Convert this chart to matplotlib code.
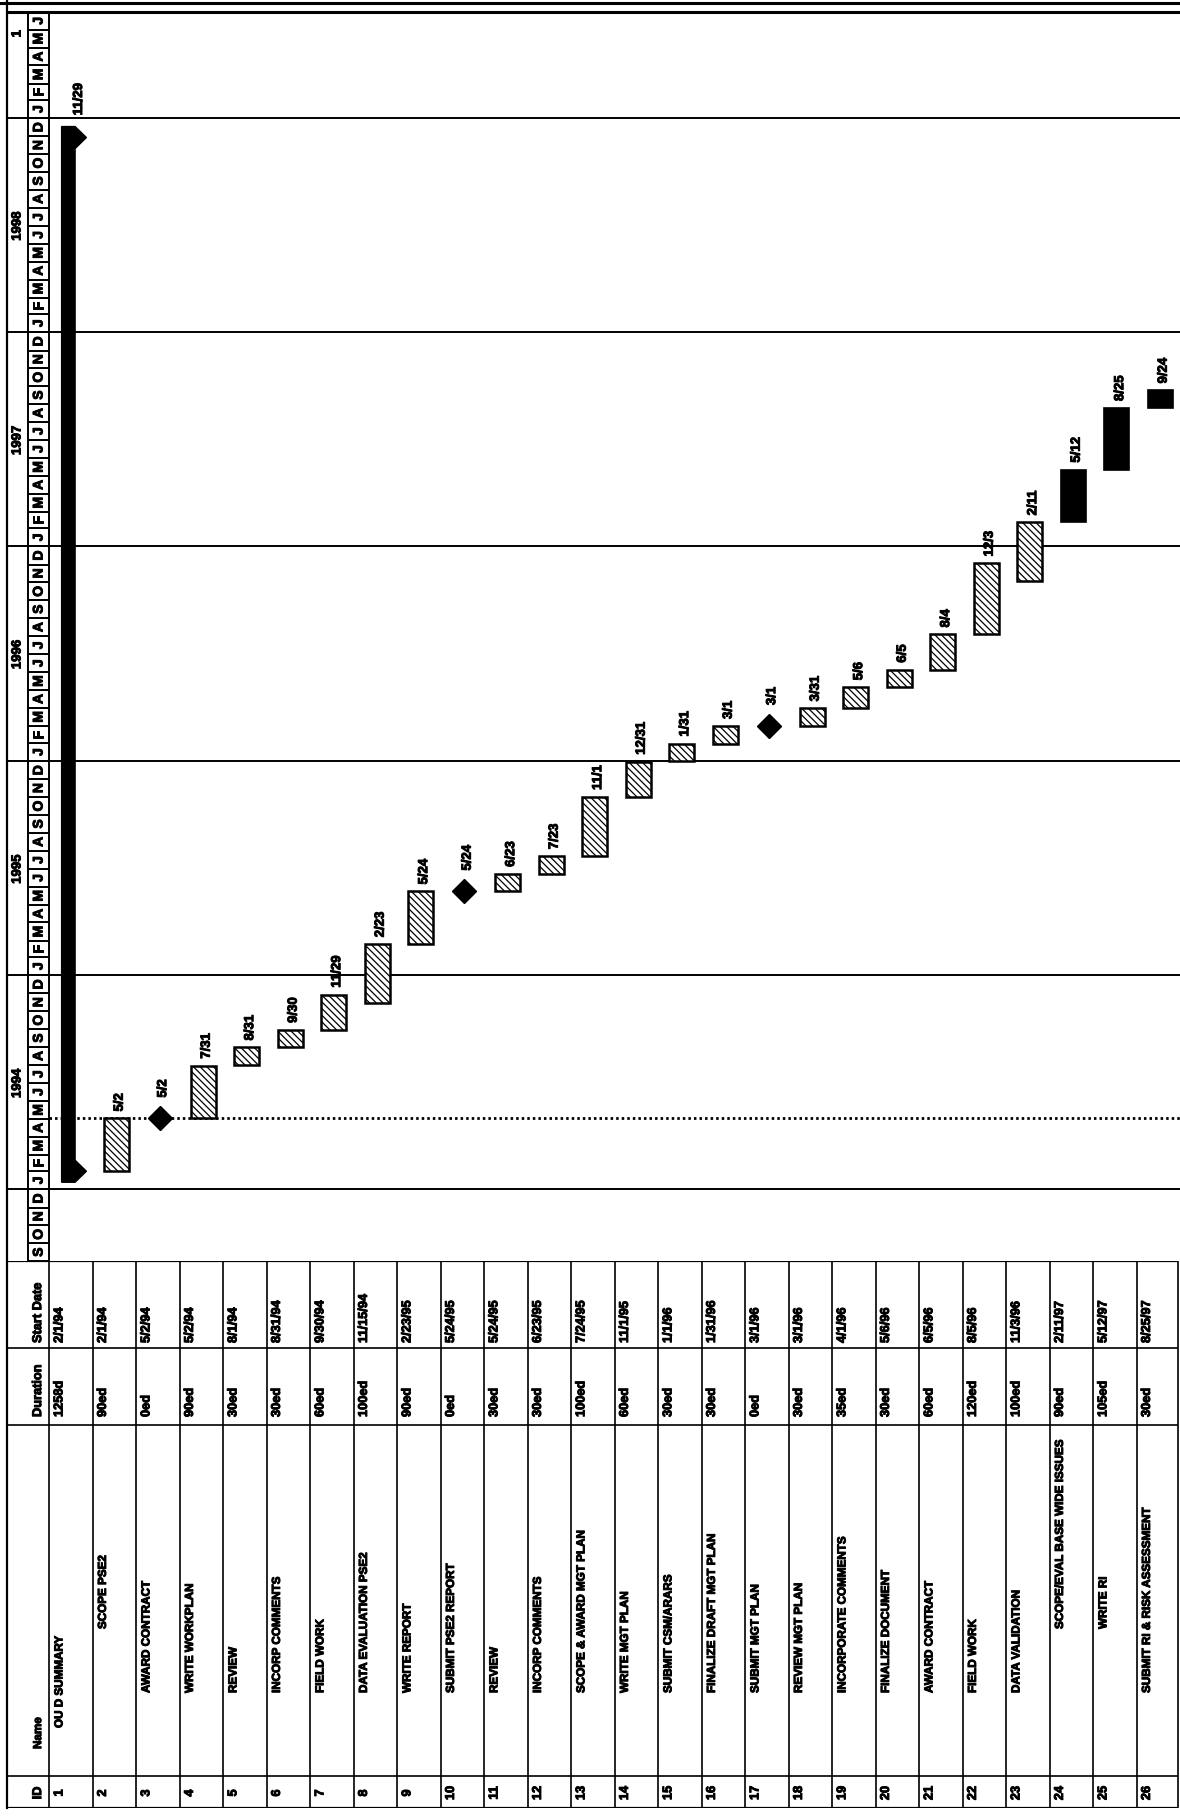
import datetime as dt
import matplotlib
matplotlib.use("Agg")
import matplotlib.pyplot as plt
import matplotlib.dates as mdates
import matplotlib.patheffects as pe
from matplotlib.patches import Rectangle, Polygon
from matplotlib.lines import Line2D

plt.rcParams['font.family'] = ['Liberation Sans', 'DejaVu Sans']
plt.rcParams['font.weight'] = 'bold'
plt.rcParams['hatch.linewidth'] = 0.9

# ---------------- data ----------------
task_ids = list(range(1, 27))
task_names = ["OU D SUMMARY", "SCOPE PSE2", "AWARD CONTRACT", "WRITE WORKPLAN", "REVIEW",
              "INCORP COMMENTS", "FIELD WORK", "DATA EVALUATION PSE2", "WRITE REPORT",
              "SUBMIT PSE2 REPORT", "REVIEW", "INCORP COMMENTS", "SCOPE & AWARD MGT PLAN",
              "WRITE MGT PLAN", "SUBMIT CSM/ARARS", "FINALIZE DRAFT MGT PLAN", "SUBMIT MGT PLAN",
              "REVIEW MGT PLAN", "INCORPORATE COMMENTS", "FINALIZE DOCUMENT", "AWARD CONTRACT",
              "FIELD WORK", "DATA VALIDATION", "SCOPE/EVAL BASE WIDE ISSUES", "WRITE RI",
              "SUBMIT RI & RISK ASSESSMENT"]
name_indent = [0, 2, 1, 1, 1, 1, 1, 1, 1, 1, 1, 1, 1, 1, 1, 1, 1, 1, 1, 1, 1, 1, 1, 2, 2, 1]
durations = ["1258d", "90ed", "0ed", "90ed", "30ed", "30ed", "60ed", "100ed", "90ed", "0ed",
             "30ed", "30ed", "100ed", "60ed", "30ed", "30ed", "0ed", "30ed", "35ed", "30ed",
             "60ed", "120ed", "100ed", "90ed", "105ed", "30ed"]
start_dates = ["2/1/94", "2/1/94", "5/2/94", "5/2/94", "8/1/94", "8/31/94", "9/30/94",
               "11/15/94", "2/23/95", "5/24/95", "5/24/95", "6/23/95", "7/24/95", "11/1/95",
               "1/1/96", "1/31/96", "3/1/96", "3/1/96", "4/1/96", "5/6/96", "6/5/96",
               "8/5/96", "11/3/96", "2/11/97", "5/12/97", "8/25/97"]
finish_dates = ["1998-11-29", "1994-05-02", "1994-05-02", "1994-07-31", "1994-08-31",
                "1994-09-30", "1994-11-29", "1995-02-23", "1995-05-24", "1995-05-24",
                "1995-06-23", "1995-07-23", "1995-11-01", "1995-12-31", "1996-01-31",
                "1996-03-01", "1996-03-01", "1996-03-31", "1996-05-06", "1996-06-05",
                "1996-08-04", "1996-12-03", "1997-02-11", "1997-05-12", "1997-08-25",
                "1997-09-24"]
task_kind = ["summary", "task", "milestone", "task", "task", "task", "task", "task", "task",
             "milestone", "task", "task", "task", "task", "task", "task", "milestone",
             "task", "task", "task", "task", "task", "task", "critical", "critical",
             "critical"]
month_letters = ["J", "F", "M", "A", "M", "J", "J", "A", "S", "O", "N", "D"]
year_labels = ["1994", "1995", "1996", "1997", "1998", "1"]
status_date = "1994-05-02"
timescale_start = "1993-09-01"
timescale_end = "1999-07-01"

# ---------------- helpers ----------------
def parse_mdy(s):
    m, d, y = (int(v) for v in s.split("/"))
    return dt.date(1900 + y, m, d)

def iso(s):
    return dt.date.fromisoformat(s)

starts = [mdates.date2num(parse_mdy(s)) for s in start_dates]
finishes = [mdates.date2num(iso(s)) for s in finish_dates]
ymin = mdates.date2num(iso(timescale_start))
ymax = mdates.date2num(iso(timescale_end))

BOLD = [pe.withStroke(linewidth=0.7, foreground="black")]

W, H = 1180, 1818
fig = plt.figure(figsize=(W / 100, H / 100), dpi=100)
fig.patch.set_facecolor("white")

def rect(x0, y0, x1, y1):
    return [x0 / W, 1 - y1 / H, (x1 - x0) / W, (y1 - y0) / H]

ax_g = fig.add_axes(rect(49, 12, 1180, 1261))
ax_h = fig.add_axes(rect(7, 12, 49, 1261), sharey=ax_g)
ax_t = fig.add_axes(rect(7, 1261, 1180, 1808))
for a in (ax_g, ax_h, ax_t):
    a.axis("off")

# ---------------- gantt area ----------------
ax_g.set_xlim(0.45, 26.45)
ax_g.set_ylim(ymin, ymax)

year_starts = [mdates.date2num(dt.date(y, 1, 1)) for y in range(1994, 2000)]
for ys in year_starts:
    ax_g.axhline(ys, color="black", lw=1.4, zorder=1)
ax_g.axhline(ymax, color="black", lw=2.2, clip_on=False, zorder=1)
ax_g.axvline(0.45, color="black", lw=1.4, clip_on=False, zorder=1)
ax_g.axhline(mdates.date2num(iso(status_date)), color="black", lw=2.0,
             ls=(0, (0.9, 1.1)), zorder=2)

BAR_W = 0.575
task_rows = [r for r, k in zip(task_ids, task_kind) if k == "task"]
task_b = [s for s, k in zip(starts, task_kind) if k == "task"]
task_h = [f - s for s, f, k in zip(starts, finishes, task_kind) if k == "task"]
ax_g.bar(task_rows, task_h, bottom=task_b, width=BAR_W, facecolor="white",
         edgecolor="black", lw=1.8, hatch="\\\\\\\\\\", zorder=3)

crit_rows = [r for r, k in zip(task_ids, task_kind) if k == "critical"]
crit_b = [s for s, k in zip(starts, task_kind) if k == "critical"]
crit_h = [f - s for s, f, k in zip(starts, finishes, task_kind) if k == "critical"]
ax_g.bar(crit_rows, crit_h, bottom=crit_b, width=BAR_W, facecolor="black",
         edgecolor="black", lw=1.2, zorder=3)

ms_rows = [r for r, k in zip(task_ids, task_kind) if k == "milestone"]
ms_y = [f for f, k in zip(finishes, task_kind) if k == "milestone"]
ax_g.plot(ms_rows, ms_y, "D", ms=12.5, color="black", zorder=4)

# summary bar with end caps
cap = 18.75  # days (half height of cap)
for r, s, f, k in zip(task_ids, starts, finishes, task_kind):
    if k != "summary":
        continue
    L, R, T = r - 0.26, r + 0.05, r + 0.31
    pts = [(L, s - cap), (R, s - cap), (T, s), (R, s + cap), (R, f - cap),
           (T, f), (R, f + cap), (L, f + cap)]
    ax_g.add_patch(Polygon(pts, closed=True, facecolor="black", edgecolor="black",
                           lw=1.0, zorder=3))

# finish-date labels
for r, f, k in zip(task_ids, finishes, task_kind):
    d = mdates.num2date(f)
    lab = f"{d.month}/{d.day}"
    off = {"summary": 16, "milestone": 15, "task": 5, "critical": 5}[k]
    dx = 0.14 if k == "summary" else 0.075
    ax_g.annotate(lab, (r + dx, f), xytext=(0, off), textcoords="offset points",
                  rotation=90, ha="center", va="bottom", fontsize=9.5,
                  fontweight="bold", zorder=5, path_effects=BOLD)

# ---------------- timescale header ----------------
ax_h.set_xlim(0, 2)
for ys in year_starts:
    ax_h.axhline(ys, color="black", lw=1.4)
ax_h.axhline(ymax, color="black", lw=2.2, clip_on=False)

cur = iso(timescale_start)
end = iso(timescale_end)
while cur < end:
    nxt = dt.date(cur.year + (cur.month == 12), cur.month % 12 + 1, 1)
    a, b = mdates.date2num(cur), mdates.date2num(nxt)
    ax_h.add_patch(Rectangle((1.02, a), 0.96, b - a, facecolor="white",
                             edgecolor="black", lw=1.4))
    ax_h.text(1.5, (a + b) / 2, month_letters[cur.month - 1], rotation=90,
              ha="center", va="center", fontsize=10, fontweight="bold",
              path_effects=BOLD)
    cur = nxt

for y, lab in zip(range(1994, 2000), year_labels):
    if lab == "1":
        yc = mdates.date2num(dt.date(y, 5, 25))
    else:
        yc = mdates.date2num(dt.date(y, 7, 1))
    ax_h.text(0.5, yc, lab, rotation=90, ha="center", va="center", fontsize=9.5,
              fontweight="bold", path_effects=BOLD)

# ---------------- table ----------------
X0 = 0.5 - 42 / 43.5
ax_t.set_xlim(X0, 26.5)
ax_t.set_ylim(547, 0)
col_lines = [0, 87, 164, 515, 547]
for yy in col_lines:
    ax_t.plot([X0, 26.45], [yy, yy], color="black", lw=1.6 if yy in (0, 547) else 1.2,
              solid_capstyle="butt")
for xx in [0.5 + k for k in range(26)] + [26.45]:
    ax_t.plot([xx, xx], [0, 547], color="black", lw=1.2)

TX = -0.26  # text position relative to row centre
hx = 0.25
fs = 9.2
fs_name = 8.4
name_bottom = {0: 467, 1: 432, 2: 368}
tk = dict(rotation=90, ha="center", va="bottom", fontsize=fs, path_effects=BOLD)
tn = dict(rotation=90, ha="center", va="bottom", fontsize=fs_name, path_effects=BOLD)
ax_t.text(hx, 82, "Start Date", **tk)
ax_t.text(hx, 156, "Duration", **tk)
ax_t.text(hx, 488, "Name", **tn)
ax_t.text(hx, 532, "ID", rotation=90, ha="center", va="center", fontsize=fs,
          path_effects=BOLD)

for r, nm, du, sd, lvl in zip(task_ids, task_names, durations, start_dates, name_indent):
    x = r + TX
    ax_t.text(x, 82, sd, **tk)
    ax_t.text(x, 156, du, **tk)
    ax_t.text(x, name_bottom[lvl], nm, **tn)
    ax_t.text(x, 532, str(r), rotation=90, ha="center", va="center", fontsize=fs,
              path_effects=BOLD)

# outer borders
fig.add_artist(Line2D([0, 1], [1 - 3 / H] * 2, transform=fig.transFigure,
                      color="black", lw=2.2))
fig.add_artist(Line2D([7 / W, 7 / W], [1 - 1808 / H, 1.0], transform=fig.transFigure,
                      color="black", lw=1.6))

fig.savefig("out.png", dpi=100, facecolor="white")
